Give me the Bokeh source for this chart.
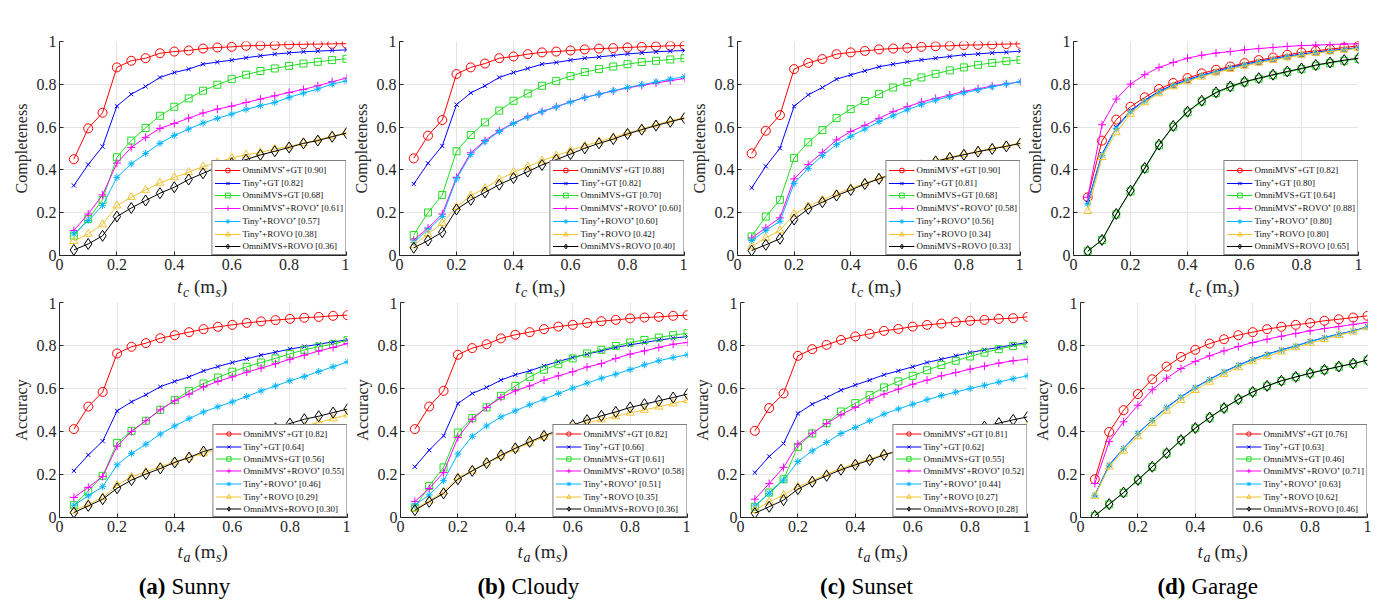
from bokeh.plotting import figure
from bokeh.layouts import column, row
from bokeh.models import Range1d, FixedTicker, Legend, LegendItem
from bokeh.core.properties import value
from bokeh.embed import file_html
from bokeh.resources import INLINE

# ---------------- data ----------------
X = [0.05, 0.1, 0.15, 0.2, 0.25, 0.3, 0.35, 0.4, 0.45, 0.5,
     0.55, 0.6, 0.65, 0.7, 0.75, 0.8, 0.85, 0.9, 0.95, 1.0]

METHODS = ["OmniMVS⁺+GT", "Tiny⁺+GT", "OmniMVS+GT", "OmniMVS⁺+ROVO⁺",
           "Tiny⁺+ROVO⁺", "Tiny⁺+ROVO", "OmniMVS+ROVO"]
TICKS = [0, 0.2, 0.4, 0.6, 0.8, 1]
TICK_LABELS = ["0", "0.2", "0.4", "0.6", "0.8", "1"]
CAPTION_TAGS = ["(a)", "(b)", "(c)", "(d)"]
CAPTION_NAMES = ["Sunny", "Cloudy", "Sunset", "Garage"]

# (a) Sunny - completeness
sunny_comp_omp_gt = [0.45, 0.594, 0.667, 0.879, 0.91, 0.922, 0.945, 0.953, 0.958, 0.967, 0.972, 0.975, 0.98, 0.981, 0.983, 0.986, 0.987, 0.988, 0.989, 0.99]
sunny_comp_tiny_gt = [0.327, 0.425, 0.509, 0.698, 0.754, 0.79, 0.832, 0.855, 0.871, 0.894, 0.904, 0.913, 0.924, 0.933, 0.941, 0.947, 0.952, 0.955, 0.958, 0.961]
sunny_comp_omni_gt = [0.093, 0.171, 0.26, 0.459, 0.537, 0.596, 0.653, 0.695, 0.734, 0.77, 0.798, 0.824, 0.845, 0.862, 0.874, 0.886, 0.897, 0.905, 0.913, 0.919]
sunny_comp_omp_rovop = [0.117, 0.194, 0.283, 0.432, 0.505, 0.552, 0.594, 0.617, 0.642, 0.666, 0.684, 0.698, 0.715, 0.731, 0.746, 0.762, 0.776, 0.793, 0.812, 0.829]
sunny_comp_tiny_rovop = [0.101, 0.163, 0.233, 0.365, 0.428, 0.477, 0.524, 0.561, 0.591, 0.619, 0.641, 0.661, 0.683, 0.7, 0.715, 0.739, 0.759, 0.778, 0.801, 0.816]
sunny_comp_tiny_rovo = [0.067, 0.101, 0.145, 0.233, 0.272, 0.306, 0.339, 0.365, 0.389, 0.415, 0.435, 0.456, 0.471, 0.482, 0.498, 0.51, 0.524, 0.541, 0.557, 0.575]
sunny_comp_omni_rovo = [0.026, 0.054, 0.092, 0.182, 0.222, 0.257, 0.291, 0.319, 0.355, 0.384, 0.412, 0.431, 0.448, 0.47, 0.487, 0.505, 0.524, 0.537, 0.555, 0.572]
sunny_comp_scores = ["0.90", "0.82", "0.68", "0.61", "0.57", "0.38", "0.36"]

# (a) Sunny - accuracy
sunny_acc_omp_gt = [0.411, 0.516, 0.584, 0.763, 0.794, 0.811, 0.834, 0.848, 0.862, 0.876, 0.887, 0.896, 0.905, 0.912, 0.918, 0.924, 0.929, 0.933, 0.938, 0.941]
sunny_acc_tiny_gt = [0.217, 0.291, 0.355, 0.496, 0.538, 0.571, 0.608, 0.633, 0.654, 0.682, 0.702, 0.721, 0.738, 0.755, 0.769, 0.783, 0.795, 0.806, 0.817, 0.826]
sunny_acc_omni_gt = [0.057, 0.124, 0.194, 0.347, 0.403, 0.45, 0.501, 0.546, 0.589, 0.623, 0.651, 0.678, 0.701, 0.721, 0.74, 0.761, 0.78, 0.794, 0.806, 0.825]
sunny_acc_omp_rovop = [0.093, 0.14, 0.191, 0.332, 0.4, 0.45, 0.501, 0.543, 0.574, 0.608, 0.633, 0.654, 0.676, 0.695, 0.715, 0.736, 0.755, 0.774, 0.791, 0.809]
sunny_acc_tiny_rovop = [0.057, 0.101, 0.143, 0.245, 0.298, 0.341, 0.388, 0.426, 0.46, 0.491, 0.515, 0.538, 0.563, 0.589, 0.612, 0.636, 0.656, 0.679, 0.701, 0.724]
sunny_acc_tiny_rovo = [0.031, 0.062, 0.093, 0.15, 0.189, 0.212, 0.237, 0.259, 0.279, 0.298, 0.318, 0.335, 0.35, 0.367, 0.385, 0.41, 0.425, 0.442, 0.46, 0.478]
sunny_acc_omni_rovo = [0.023, 0.054, 0.085, 0.136, 0.174, 0.202, 0.228, 0.256, 0.279, 0.307, 0.325, 0.343, 0.365, 0.39, 0.415, 0.437, 0.457, 0.471, 0.488, 0.504]
sunny_acc_scores = ["0.82", "0.64", "0.56", "0.55", "0.46", "0.29", "0.30"]

# (b) Cloudy - completeness
cloudy_comp_omp_gt = [0.454, 0.56, 0.633, 0.848, 0.879, 0.897, 0.922, 0.93, 0.941, 0.949, 0.953, 0.958, 0.963, 0.967, 0.969, 0.972, 0.975, 0.977, 0.98, 0.981]
cloudy_comp_tiny_gt = [0.334, 0.431, 0.512, 0.705, 0.76, 0.793, 0.832, 0.855, 0.874, 0.894, 0.902, 0.913, 0.922, 0.928, 0.935, 0.942, 0.947, 0.952, 0.955, 0.958]
cloudy_comp_omni_gt = [0.096, 0.201, 0.283, 0.487, 0.563, 0.622, 0.677, 0.723, 0.757, 0.793, 0.816, 0.838, 0.857, 0.871, 0.883, 0.894, 0.904, 0.91, 0.916, 0.922]
cloudy_comp_omp_rovop = [0.073, 0.128, 0.194, 0.365, 0.48, 0.537, 0.583, 0.619, 0.649, 0.673, 0.695, 0.718, 0.739, 0.754, 0.769, 0.783, 0.795, 0.806, 0.817, 0.827]
cloudy_comp_tiny_rovop = [0.062, 0.12, 0.182, 0.358, 0.472, 0.532, 0.58, 0.617, 0.647, 0.672, 0.694, 0.717, 0.738, 0.754, 0.77, 0.785, 0.798, 0.811, 0.824, 0.836]
cloudy_comp_tiny_rovo = [0.047, 0.101, 0.151, 0.226, 0.28, 0.314, 0.355, 0.389, 0.415, 0.443, 0.467, 0.49, 0.513, 0.533, 0.552, 0.572, 0.591, 0.611, 0.63, 0.645]
cloudy_comp_omni_rovo = [0.036, 0.07, 0.109, 0.215, 0.26, 0.295, 0.331, 0.362, 0.392, 0.423, 0.448, 0.474, 0.501, 0.524, 0.544, 0.568, 0.588, 0.607, 0.625, 0.642]
cloudy_comp_scores = ["0.88", "0.82", "0.70", "0.60", "0.60", "0.42", "0.40"]

# (b) Cloudy - accuracy
cloudy_acc_omp_gt = [0.411, 0.516, 0.589, 0.757, 0.788, 0.806, 0.833, 0.85, 0.862, 0.876, 0.888, 0.896, 0.905, 0.913, 0.919, 0.926, 0.93, 0.933, 0.938, 0.941]
cloudy_acc_tiny_gt = [0.236, 0.313, 0.38, 0.53, 0.577, 0.605, 0.639, 0.664, 0.682, 0.705, 0.726, 0.744, 0.76, 0.775, 0.791, 0.803, 0.814, 0.825, 0.834, 0.842]
cloudy_acc_omni_gt = [0.047, 0.147, 0.233, 0.395, 0.462, 0.512, 0.566, 0.612, 0.654, 0.687, 0.713, 0.74, 0.763, 0.78, 0.798, 0.814, 0.826, 0.837, 0.848, 0.857]
cloudy_acc_omp_rovop = [0.074, 0.135, 0.209, 0.372, 0.457, 0.512, 0.558, 0.589, 0.612, 0.639, 0.659, 0.678, 0.7, 0.716, 0.74, 0.76, 0.775, 0.791, 0.806, 0.814]
cloudy_acc_tiny_rovop = [0.057, 0.105, 0.171, 0.295, 0.378, 0.426, 0.468, 0.496, 0.524, 0.55, 0.577, 0.602, 0.625, 0.648, 0.667, 0.688, 0.71, 0.729, 0.744, 0.757]
cloudy_acc_tiny_rovo = [0.039, 0.078, 0.119, 0.186, 0.217, 0.251, 0.285, 0.318, 0.347, 0.375, 0.398, 0.42, 0.44, 0.455, 0.47, 0.487, 0.5, 0.515, 0.53, 0.545]
cloudy_acc_omni_rovo = [0.034, 0.073, 0.112, 0.178, 0.217, 0.253, 0.29, 0.322, 0.352, 0.38, 0.406, 0.43, 0.453, 0.473, 0.491, 0.512, 0.527, 0.543, 0.558, 0.574]
cloudy_acc_scores = ["0.82", "0.66", "0.61", "0.58", "0.51", "0.35", "0.36"]

# (c) Sunset - completeness
sunset_comp_omp_gt = [0.477, 0.583, 0.656, 0.871, 0.9, 0.918, 0.941, 0.949, 0.956, 0.963, 0.967, 0.97, 0.975, 0.978, 0.98, 0.983, 0.984, 0.986, 0.988, 0.989]
sunset_comp_tiny_gt = [0.316, 0.417, 0.501, 0.697, 0.751, 0.785, 0.824, 0.844, 0.863, 0.882, 0.894, 0.905, 0.914, 0.922, 0.93, 0.938, 0.942, 0.947, 0.95, 0.955]
sunset_comp_omni_gt = [0.089, 0.182, 0.26, 0.456, 0.529, 0.586, 0.642, 0.684, 0.722, 0.754, 0.785, 0.81, 0.832, 0.849, 0.865, 0.879, 0.891, 0.9, 0.908, 0.914]
sunset_comp_omp_rovop = [0.082, 0.129, 0.176, 0.358, 0.425, 0.482, 0.54, 0.579, 0.608, 0.641, 0.672, 0.695, 0.717, 0.734, 0.75, 0.767, 0.779, 0.792, 0.802, 0.812]
sunset_comp_tiny_rovop = [0.07, 0.117, 0.16, 0.337, 0.407, 0.467, 0.518, 0.557, 0.591, 0.625, 0.653, 0.681, 0.705, 0.726, 0.743, 0.76, 0.774, 0.788, 0.801, 0.812]
sunset_comp_tiny_rovo = [0.042, 0.082, 0.117, 0.194, 0.23, 0.26, 0.288, 0.314, 0.337, 0.362, 0.384, 0.404, 0.423, 0.44, 0.459, 0.473, 0.487, 0.501, 0.513, 0.526]
sunset_comp_omni_rovo = [0.023, 0.05, 0.078, 0.168, 0.218, 0.249, 0.28, 0.306, 0.334, 0.358, 0.381, 0.401, 0.421, 0.44, 0.456, 0.471, 0.485, 0.498, 0.51, 0.524]
sunset_comp_scores = ["0.90", "0.81", "0.68", "0.58", "0.56", "0.34", "0.33"]

# (c) Sunset - accuracy
sunset_acc_omp_gt = [0.403, 0.509, 0.577, 0.752, 0.783, 0.803, 0.826, 0.842, 0.854, 0.868, 0.877, 0.888, 0.896, 0.902, 0.909, 0.915, 0.919, 0.924, 0.927, 0.933]
sunset_acc_tiny_gt = [0.209, 0.284, 0.344, 0.484, 0.527, 0.558, 0.592, 0.616, 0.639, 0.664, 0.682, 0.701, 0.721, 0.736, 0.752, 0.767, 0.78, 0.791, 0.803, 0.814]
sunset_acc_omni_gt = [0.05, 0.116, 0.178, 0.329, 0.391, 0.439, 0.493, 0.532, 0.569, 0.605, 0.633, 0.659, 0.685, 0.709, 0.729, 0.749, 0.767, 0.783, 0.798, 0.809]
sunset_acc_omp_rovop = [0.085, 0.158, 0.233, 0.341, 0.392, 0.437, 0.478, 0.512, 0.546, 0.574, 0.597, 0.62, 0.639, 0.659, 0.674, 0.69, 0.704, 0.718, 0.729, 0.736]
sunset_acc_tiny_rovop = [0.054, 0.113, 0.174, 0.26, 0.31, 0.349, 0.391, 0.419, 0.45, 0.481, 0.505, 0.527, 0.548, 0.567, 0.583, 0.6, 0.615, 0.63, 0.645, 0.659]
sunset_acc_tiny_rovo = [0.034, 0.073, 0.104, 0.143, 0.171, 0.202, 0.228, 0.251, 0.271, 0.295, 0.31, 0.325, 0.34, 0.355, 0.37, 0.385, 0.395, 0.405, 0.415, 0.428]
sunset_acc_omni_rovo = [0.02, 0.05, 0.081, 0.132, 0.166, 0.194, 0.222, 0.245, 0.267, 0.291, 0.31, 0.33, 0.35, 0.368, 0.385, 0.403, 0.423, 0.439, 0.454, 0.468]
sunset_acc_scores = ["0.81", "0.62", "0.55", "0.52", "0.44", "0.27", "0.28"]

# (d) Garage - completeness
garage_comp_omp_gt = [0.272, 0.537, 0.635, 0.695, 0.739, 0.778, 0.806, 0.829, 0.851, 0.868, 0.883, 0.899, 0.913, 0.925, 0.938, 0.949, 0.956, 0.964, 0.972, 0.98]
garage_comp_tiny_gt = [0.249, 0.474, 0.599, 0.677, 0.726, 0.767, 0.798, 0.821, 0.843, 0.86, 0.879, 0.893, 0.907, 0.919, 0.932, 0.941, 0.95, 0.958, 0.964, 0.972]
garage_comp_omni_gt = [0.02, 0.072, 0.192, 0.3, 0.405, 0.515, 0.602, 0.669, 0.72, 0.759, 0.787, 0.809, 0.826, 0.842, 0.857, 0.871, 0.887, 0.899, 0.91, 0.919]
garage_comp_omp_rovop = [0.272, 0.611, 0.731, 0.801, 0.845, 0.879, 0.902, 0.922, 0.936, 0.946, 0.953, 0.961, 0.967, 0.972, 0.977, 0.981, 0.983, 0.986, 0.988, 0.989]
garage_comp_tiny_rovop = [0.241, 0.468, 0.594, 0.672, 0.722, 0.763, 0.794, 0.818, 0.84, 0.857, 0.876, 0.89, 0.904, 0.916, 0.929, 0.938, 0.947, 0.955, 0.962, 0.969]
garage_comp_tiny_rovo = [0.207, 0.459, 0.575, 0.661, 0.715, 0.757, 0.79, 0.813, 0.835, 0.854, 0.871, 0.886, 0.9, 0.913, 0.925, 0.936, 0.946, 0.953, 0.961, 0.967]
garage_comp_omni_rovo = [0.02, 0.073, 0.194, 0.303, 0.409, 0.518, 0.605, 0.672, 0.723, 0.762, 0.79, 0.812, 0.829, 0.845, 0.86, 0.874, 0.89, 0.902, 0.913, 0.922]
garage_comp_scores = ["0.82", "0.80", "0.64", "0.88", "0.80", "0.80", "0.65"]

# (d) Garage - accuracy
garage_acc_omp_gt = [0.178, 0.398, 0.499, 0.574, 0.643, 0.702, 0.747, 0.78, 0.809, 0.829, 0.848, 0.862, 0.876, 0.887, 0.896, 0.905, 0.915, 0.922, 0.93, 0.938]
garage_acc_tiny_gt = [0.105, 0.245, 0.322, 0.392, 0.453, 0.512, 0.561, 0.605, 0.643, 0.678, 0.709, 0.736, 0.76, 0.78, 0.798, 0.819, 0.837, 0.853, 0.868, 0.887]
garage_acc_omni_gt = [0.008, 0.061, 0.115, 0.174, 0.235, 0.298, 0.359, 0.415, 0.464, 0.508, 0.549, 0.583, 0.611, 0.635, 0.653, 0.67, 0.686, 0.701, 0.715, 0.731]
garage_acc_omp_rovop = [0.158, 0.353, 0.445, 0.522, 0.594, 0.648, 0.693, 0.726, 0.752, 0.775, 0.795, 0.814, 0.829, 0.843, 0.856, 0.868, 0.879, 0.888, 0.898, 0.907]
garage_acc_tiny_rovop = [0.103, 0.243, 0.32, 0.39, 0.451, 0.51, 0.559, 0.603, 0.641, 0.676, 0.707, 0.734, 0.758, 0.778, 0.797, 0.818, 0.836, 0.852, 0.867, 0.886]
garage_acc_tiny_rovo = [0.1, 0.236, 0.31, 0.377, 0.438, 0.496, 0.546, 0.592, 0.631, 0.667, 0.698, 0.726, 0.749, 0.771, 0.791, 0.811, 0.829, 0.848, 0.864, 0.884]
garage_acc_omni_rovo = [0.008, 0.062, 0.116, 0.175, 0.236, 0.299, 0.36, 0.416, 0.465, 0.509, 0.55, 0.584, 0.612, 0.636, 0.654, 0.671, 0.687, 0.702, 0.716, 0.732]
garage_acc_scores = ["0.76", "0.63", "0.46", "0.71", "0.63", "0.62", "0.46"]

# ---------------- styling ----------------
FONT = "Liberation Serif"
AX = "#262626"
STYLES = [
    dict(color="#FF0000", marker="circle", size=9),
    dict(color="#0000FF", marker="x", size=6),
    dict(color="#22DD22", marker="square", size=7),
    dict(color="#FF00FF", marker="cross", size=8),
    dict(color="#00B4FF", marker="asterisk", size=7),
    dict(color="#F2C230", marker="triangle", size=8),
    dict(color="#000000", marker="diamond", size=11),
]
SUFFIXES = ["_omp_gt", "_tiny_gt", "_omni_gt", "_omp_rovop", "_tiny_rovop", "_tiny_rovo", "_omni_rovo"]


def series(prefix):
    g = globals()
    return [g[prefix + k] for k in SUFFIXES]


def make_panel(prefix, ylabel, width, height, bl, br, bt, bb, label_h):
    p = figure(width=width, height=height, x_range=Range1d(0, 1), y_range=Range1d(0, 1),
               title=None, output_backend="svg", toolbar_location=None,
               min_border_left=bl, min_border_right=br, min_border_top=bt, min_border_bottom=bb)
    p.outline_line_color = None
    p.background_fill_color = "white"
    overrides = {t: l for t, l in zip(TICKS, TICK_LABELS)}
    for ax in (p.xaxis[0], p.yaxis[0]):
        ax.ticker = FixedTicker(ticks=TICKS)
        ax.major_label_overrides = overrides
        ax.axis_line_color = AX
        ax.axis_line_width = 1
        ax.major_tick_line_color = AX
        ax.major_tick_in = 4
        ax.major_tick_out = 0
        ax.minor_tick_line_color = None
        ax.major_label_text_font = FONT
        ax.major_label_text_font_size = "16px"
        ax.major_label_text_color = AX
        ax.major_label_standoff = 3
    p.xgrid.ticker = FixedTicker(ticks=TICKS)
    p.ygrid.ticker = FixedTicker(ticks=TICKS)
    p.xgrid.grid_line_color = "#E4E4E4"
    p.ygrid.grid_line_color = "#E4E4E4"
    p.yaxis.axis_label = ylabel
    p.yaxis.axis_label_text_font = FONT
    p.yaxis.axis_label_text_font_size = "16px"
    p.yaxis.axis_label_text_font_style = "normal"
    p.yaxis.axis_label_text_color = AX
    p.yaxis.axis_label_standoff = 4

    items = []
    scores = globals()[prefix + "_scores"]
    for vals, st, name, sc in zip(series(prefix), STYLES, METHODS, scores):
        lr = p.line(X, vals, line_color=st["color"], line_width=1)
        sr = p.scatter(X, vals, marker=st["marker"], size=st["size"],
                       line_color=st["color"], fill_color=None, line_width=1)
        items.append(LegendItem(label=f"{name} [{sc}]", renderers=[lr, sr]))
    leg = Legend(items=items, location="bottom_right", margin=0, padding=2, spacing=0,
                 label_text_font=FONT, label_text_font_size="9px", label_text_color="#111111",
                 glyph_width=26, glyph_height=label_h, label_height=label_h, label_standoff=2,
                 border_line_color="black", border_line_width=1,
                 background_fill_color="white", background_fill_alpha=1.0)
    p.add_layout(leg)
    return p


def text_strip(height, pieces):
    """A bare strip of SVG text; each piece gives its baseline in px from the strip top."""
    s = figure(width=1380, height=height, x_range=Range1d(0, 1380), y_range=Range1d(0, height),
               title=None, output_backend="svg", toolbar_location=None,
               min_border_left=0, min_border_right=0, min_border_top=0, min_border_bottom=0,
               x_axis_location=None, y_axis_location=None)
    s.grid.visible = False
    s.outline_line_color = None
    for x, base, txt, fs, sty, align, color in pieces:
        # bokeh draws "alphabetic" text ~0.29 em lower than the anchor; compensate
        s.text(x=[x], y=[height - (base - 0.29 * fs)], text=[txt], text_font=value(FONT),
               text_font_size=value(f"{fs}px"), text_font_style=value(sty),
               text_align=value(align), text_baseline=value("alphabetic"), text_color=color)
    return s


def xlabel_pieces(center, sub, base):
    x0 = center - 26
    return [(x0, base, "t", 19, "italic", "left", AX),
            (x0 + 6, base + 4, sub, 14, "italic", "left", AX),
            (x0 + 17, base, "(m", 19, "normal", "left", AX),
            (x0 + 38.5, base + 4, "s", 14, "italic", "left", AX),
            (x0 + 44, base, ")", 19, "normal", "left", AX)]


# layout geometry (pixels)
TOP_W = [349, 338, 336, 357]
TOP_BL = [59, 48, 46, 48]
TOP_BR = [3, 3, 3, 22]
BOT_W = [350, 340, 340, 350]
BOT_BL = [59, 49, 49, 49]
BOT_BR = [3, 3, 3, 13]
TOP_H, MID_H, BOT_H, CAP_H = 278, 19, 241, 74

top_prefixes = ["sunny_comp", "cloudy_comp", "sunset_comp", "garage_comp"]
bot_prefixes = ["sunny_acc", "cloudy_acc", "sunset_acc", "garage_acc"]

top = [make_panel(pr, "Completeness", w, TOP_H, bl, br, 41, 23, 12)
       for pr, w, bl, br in zip(top_prefixes, TOP_W, TOP_BL, TOP_BR)]
bottom = [make_panel(pr, "Accuracy", w, BOT_H, bl, br, 5, 21, 11)
          for pr, w, bl, br in zip(bot_prefixes, BOT_W, BOT_BL, BOT_BR)]

# x-axis labels between the rows
mid_pieces = []
left = 0
for w, bl, br in zip(TOP_W, TOP_BL, TOP_BR):
    fl = left + bl
    fw = w - bl - br
    mid_pieces += xlabel_pieces(fl + fw / 2, "c", 14)
    left += w
mid = text_strip(MID_H, mid_pieces)

# x-axis labels and captions under the bottom row
cap_pieces = []
left = 0
for w, bl, br, tag, name in zip(BOT_W, BOT_BL, BOT_BR, CAPTION_TAGS, CAPTION_NAMES):
    fl = left + bl
    fw = w - bl - br
    cap_pieces += xlabel_pieces(fl + fw / 2, "a", 19)
    cap_pieces.append((fl + 106, 55, tag, 23, "bold", "right", "black"))
    cap_pieces.append((fl + 112, 55, name, 23, "normal", "left", "black"))
    left += w
cap = text_strip(CAP_H, cap_pieces)

layout = column(row(*top, spacing=0), mid, row(*bottom, spacing=0), cap, spacing=0)

with open("out.html", "w") as f:
    f.write(file_html(layout, INLINE))
